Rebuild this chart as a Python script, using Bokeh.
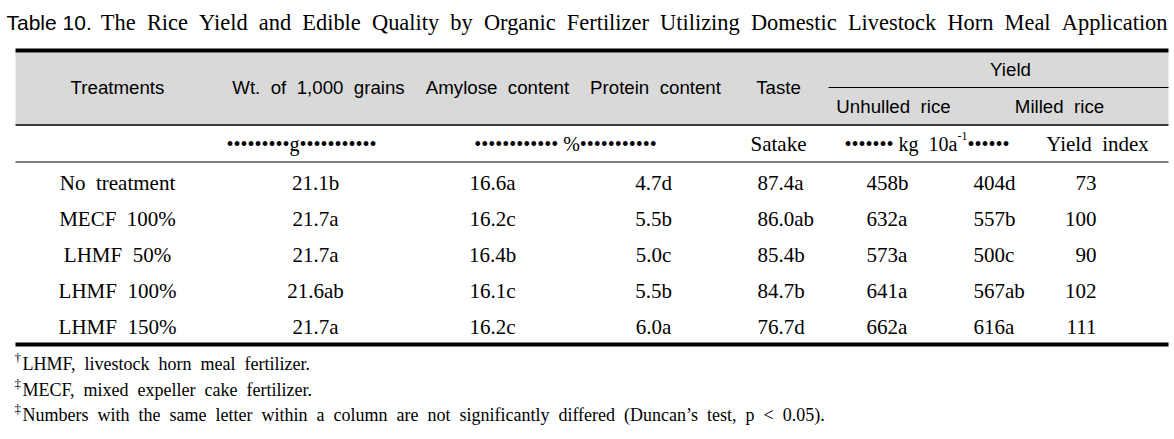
from bokeh.plotting import figure
from bokeh.models import Range1d, ColumnDataSource
from bokeh.core.properties import value
from bokeh.embed import file_html
from bokeh.resources import INLINE

# ---- data ----
treatments = ["No treatment", "MECF 100%", "LHMF 50%", "LHMF 100%", "LHMF 150%"]
wt_1000 = ["21.1b", "21.7a", "21.7a", "21.6ab", "21.7a"]
amylose = ["16.6a", "16.2c", "16.4b", "16.1c", "16.2c"]
protein = ["4.7d", "5.5b", "5.0c", "5.5b", "6.0a"]
taste = ["87.4a", "86.0ab", "85.4b", "84.7b", "76.7d"]
unhulled = ["458b", "632a", "573a", "641a", "662a"]
milled = ["404d", "557b", "500c", "567ab", "616a"]
yield_index = ["73", "100", "90", "102", "111"]

title_lead = "Table 10."
title_rest = "The Rice Yield and Edible Quality by Organic Fertilizer Utilizing Domestic Livestock Horn Meal Application"
header_labels = ["Treatments", "Wt. of 1,000 grains", "Amylose content", "Protein content",
                 "Taste", "Yield", "Unhulled rice", "Milled rice"]
footnotes = ["LHMF, livestock horn meal fertilizer.",
             "MECF, mixed expeller cake fertilizer.",
             "Numbers with the same letter within a column are not significantly differed (Duncan\u2019s test, p < 0.05)."]
foot_marks = ["\u2020", "\u2021", "\u2021"]


def wide(s):
    # the source sets words with double spaces
    return s.replace(" ", " \u00a0")


SANS = value("Liberation Sans")
SERIF = value("Liberation Serif")

W, H = 1170, 435
p = figure(width=W, height=H, output_backend="svg", toolbar_location=None,
           x_range=Range1d(0, W), y_range=Range1d(H, 0), min_border=0)
p.axis.visible = False
p.grid.visible = False
p.outline_line_color = None
p.background_fill_color = "white"

L, R = 15, 1168
row_y = [182, 218, 254, 290, 326]
DOT = "\u2022"

# header background
p.quad(left=[L], right=[R], top=[52], bottom=[124], fill_color="#d9d9d9", line_color=None)
# rules
p.segment(x0=[L], x1=[R], y0=[50], y1=[50], line_color="black", line_width=4)
p.segment(x0=[L], x1=[R], y0=[124.5], y1=[124.5], line_color="black", line_width=1.5)
p.segment(x0=[828], x1=[R], y0=[87], y1=[87], line_color="black", line_width=1.2)
p.segment(x0=[L], x1=[R], y0=[161.5], y1=[161.5], line_color="black", line_width=1.2)
p.segment(x0=[L], x1=[R], y0=[344], y1=[344], line_color="black", line_width=4)

# title
p.text(x=[6], y=[22], text=[title_lead], text_font=SANS, text_font_size="21px",
       text_baseline="middle", text_align="left", text_color="black")
p.text(x=[1167], y=[22], text=[wide(title_rest)], text_font=SERIF, text_font_size="22.4px",
       text_baseline="middle", text_align="right", text_color="black")

# header texts
hdr = ColumnDataSource(dict(
    x=[117, 318, 497, 655, 778, 1010, 893, 1059],
    y=[87, 87, 87, 87, 87, 69, 106, 106],
    t=[wide(s) for s in header_labels]))
p.text(x="x", y="y", text="t", source=hdr, text_font=SANS, text_font_size="18.7px",
       text_baseline="middle", text_align="center", text_color="black")

# units row
units = ColumnDataSource(dict(
    x=[301, 565],
    y=[143, 143],
    t=[DOT * 9 + "g" + DOT * 11, DOT * 12 + " %" + DOT * 11]))
p.text(x="x", y="y", text="t", source=units, text_font=SERIF, text_font_size="20px",
       text_baseline="middle", text_align="center", text_color="black")
p.text(x=[778, 1097], y=[143, 143], text=["Satake", wide("Yield index")], text_font=SERIF,
       text_font_size="21px", text_baseline="middle", text_align="center", text_color="black")
p.text(x=[957], y=[143], text=[DOT * 7 + " kg \u00a010a"], text_font=SERIF,
       text_font_size="20px", text_baseline="middle", text_align="right", text_color="black")
p.text(x=[957], y=[135], text=["-1"], text_font=SERIF, text_font_size="12px",
       text_baseline="middle", text_align="left", text_color="black")
p.text(x=[967], y=[143], text=[DOT * 6], text_font=SERIF,
       text_font_size="20px", text_baseline="middle", text_align="left", text_color="black")

# body
body = ColumnDataSource(dict(y=row_y, treat=[wide(s) for s in treatments], wt=wt_1000,
                             am=amylose, pr=protein, ta=taste, uh=unhulled, mi=milled,
                             yi=yield_index))
common = dict(source=body, y="y", text_font=SERIF, text_font_size="21px",
              text_baseline="middle", text_color="black")
p.text(x=117, text="treat", text_align="center", **common)
p.text(x=315, text="wt", text_align="center", **common)
p.text(x=492, text="am", text_align="center", **common)
p.text(x=653, text="pr", text_align="center", **common)
p.text(x=757, text="ta", text_align="left", **common)
p.text(x=866, text="uh", text_align="left", **common)
p.text(x=973, text="mi", text_align="left", **common)
p.text(x=1096, text="yi", text_align="right", **common)

# footnotes
fy = [363, 389, 414]
fn = ColumnDataSource(dict(x=[22] * 3, y=fy, t=[wide(s) for s in footnotes], mx=[14] * 3,
                           my=[v - 6 for v in fy], m=foot_marks))
p.text(x="x", y="y", text="t", source=fn, text_font=SERIF, text_font_size="18px",
       text_baseline="middle", text_align="left", text_color="black")
p.text(x="mx", y="my", text="m", source=fn, text_font=SERIF, text_font_size="13px",
       text_baseline="middle", text_align="left", text_color="black")

open("out.html", "w").write(file_html(p, INLINE))
